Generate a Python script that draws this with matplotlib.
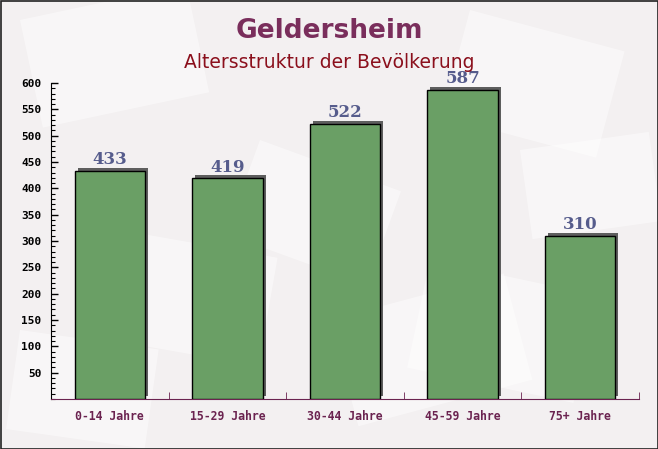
import matplotlib.pyplot as plt
import matplotlib.transforms as mtransforms
from matplotlib.patches import Rectangle
from matplotlib.ticker import MultipleLocator, FixedLocator, NullFormatter

categories = ['0-14 Jahre', '15-29 Jahre', '30-44 Jahre', '45-59 Jahre', '75+ Jahre']
values = [433, 419, 522, 587, 310]

C_BG = '#f3f0f1'
C_BAR = '#6a9f65'
C_SHADOW = '#5e5e5e'
C_TITLE = '#7a2e5c'
C_SUB = '#8b0f1c'
C_VAL = '#565c8c'
C_XLAB = '#6b2350'

fig = plt.figure(figsize=(6.58, 4.49), dpi=100)
fig.patch.set_facecolor(C_BG)

# faint background "envelopes"
bg = fig.add_axes([0, 0, 1, 1], zorder=0)
bg.set_xlim(0, 658)
bg.set_ylim(449, 0)
bg.axis('off')
for (x, y, w, h, ang) in [(20, 20, 170, 110, -12), (260, 140, 150, 100, 20),
                          (470, 10, 160, 110, 15), (520, 150, 130, 90, -8),
                          (120, 230, 160, 110, 10), (330, 320, 180, 110, -15),
                          (20, 330, 140, 100, 8), (430, 260, 170, 110, 12)]:
    r = Rectangle((x, y), w, h, angle=ang, facecolor='white', edgecolor='none',
                  alpha=0.45)
    bg.add_patch(r)
# outer frame
bg.add_patch(Rectangle((0.5, 0.5), 657, 448, facecolor='none', edgecolor='#222222', lw=1.2))

fig.text(0.5, 1 - 31 / 449, 'Geldersheim', ha='center', va='center', fontsize=19,
         fontweight='bold', color=C_TITLE)
fig.text(0.5, 1 - 63 / 449, 'Altersstruktur der Bevölkerung', ha='center', va='center',
         fontsize=13.5, color=C_SUB)

ax = fig.add_axes([51 / 658, 1 - 399 / 449, 588 / 658, 316 / 449], zorder=1)
ax.patch.set_alpha(0)
x = list(range(len(categories)))

# shadow offset to the right and upward
shadow_tf = ax.transData + mtransforms.ScaledTranslation(3 / 100, 3 / 100, fig.dpi_scale_trans)
ax.bar(x, values, width=0.6, color=C_SHADOW, transform=shadow_tf, zorder=2)
ax.bar(x, values, width=0.6, color=C_BAR, edgecolor='black', linewidth=1, zorder=3)

for xi, v in zip(x, values):
    ax.annotate(str(v), (xi, v), xytext=(0, 8), textcoords='offset points',
                ha='center', va='center', fontsize=12, fontweight='bold',
                family='DejaVu Serif', color=C_VAL, zorder=4)

ax.set_xlim(-0.5, len(categories) - 0.5)
ax.set_ylim(0, 600)

ax.spines['top'].set_visible(False)
ax.spines['right'].set_visible(False)
ax.spines['left'].set_color('black')
ax.spines['bottom'].set_color(C_XLAB)

ax.yaxis.set_major_locator(FixedLocator([50 * i for i in range(1, 13)]))
ax.yaxis.set_minor_locator(MultipleLocator(10))
ax.tick_params(axis='y', which='major', direction='in', length=5, width=1,
               labelsize=8, pad=7)
ax.tick_params(axis='y', which='minor', direction='in', length=3, width=0.8)
for lab in ax.get_yticklabels():
    lab.set_family('DejaVu Sans Mono')
    lab.set_fontweight('bold')

ax.set_xticks(x)
ax.set_xticklabels(categories, family='DejaVu Sans Mono', fontsize=8.3,
                   fontweight='bold', color=C_XLAB)
ax.tick_params(axis='x', which='major', length=0, pad=8)
ax.xaxis.set_minor_locator(FixedLocator([i + 0.5 for i in range(len(categories))]))
ax.xaxis.set_minor_formatter(NullFormatter())
ax.tick_params(axis='x', which='minor', direction='in', length=5, color=C_XLAB)

fig.savefig('out.png', dpi=100, facecolor=C_BG)
